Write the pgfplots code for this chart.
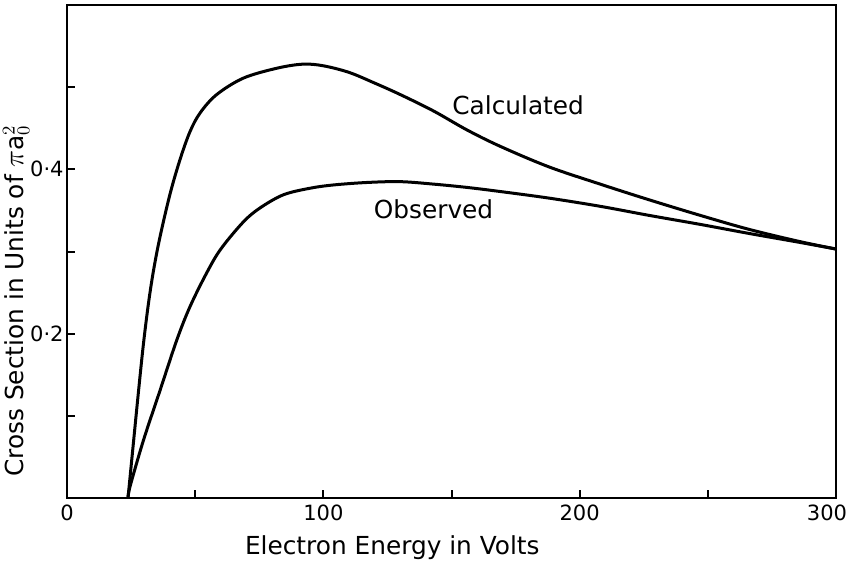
\documentclass[border=0pt]{standalone}
\usepackage{fontspec}
\setmainfont{DejaVu Sans}
\usepackage{pgfplots}
\pgfplotsset{compat=1.18}

% values (energy in volts, cross section in pi a0^2)
\pgfplotstableread{
V sig
23.8 0
26.0 0.070
27.9 0.130
29.8 0.187
31.7 0.235
33.7 0.276
36.3 0.318
40.2 0.370
44.1 0.412
48 0.446
52 0.469
58.4 0.491
68.8 0.511
81.8 0.523
92 0.528
100 0.526
110 0.518
120 0.505
130 0.491
143 0.471
156 0.448
169 0.428
188 0.403
208 0.382
227 0.363
247 0.344
266 0.327
286 0.312
300 0.303
}\calc

\pgfplotstableread{
V sig
23.8 0
24.6 0.014
29.8 0.070
36.3 0.131
42.8 0.192
48.0 0.233
54.5 0.274
60 0.303
68.8 0.336
75.3 0.353
84.4 0.369
94.8 0.377
104 0.381
117 0.384
130 0.385
143 0.382
156 0.378
169 0.373
188 0.365
208 0.355
227 0.344
247 0.333
266 0.322
286 0.311
300 0.303
}\obs

\begin{document}
\begin{tikzpicture}
\begin{axis}[
  scale only axis,
  width=384.5pt, height=246.5pt,
  xmin=0, xmax=300, ymin=0, ymax=0.6,
  axis line style={line width=1.2pt},
  tick pos=left, tick align=inside,
  major tick length=4pt, minor tick length=4pt,
  every tick/.style={line width=1pt, black},
  xtick={0,100,200,300}, xticklabels={0,100,200,\hspace*{-9pt}300},
  minor xtick={50,150,250},
  ytick={0.2,0.4}, yticklabels={0·2,0·4},
  minor ytick={0.1,0.3,0.5},
  tick label style={font=\fontsize{10.5}{12}\selectfont},
  yticklabel style={inner xsep=1.5pt},
  label style={font=\fontsize{12.4}{15}\selectfont},
  xlabel={Electron Energy in Volts},
  xlabel style={at={(axis description cs:0.423,-0.101)}, anchor=center},
  ylabel={Cross Section in Units of {\Large$\pi$}a$^{2}_{0}$},
  ylabel style={at={(axis description cs:-0.066,0.40)}, anchor=center},
]
\addplot[black, line width=1.5pt, smooth, tension=0.55] table[x=V, y=sig] {\calc};
\addplot[black, line width=1.5pt, smooth, tension=0.55] table[x=V, y=sig] {\obs};
\node[font=\fontsize{12.4}{15}\selectfont] at (axis cs:176,0.478) {Calculated};
\node[font=\fontsize{12.4}{15}\selectfont] at (axis cs:143,0.352) {Observed};
\end{axis}
\pgfresetboundingbox
\path (current axis.south west) ++(-33.5pt,-32pt) rectangle ([shift={(7pt,2.5pt)}]current axis.north east);
\end{tikzpicture}
\end{document}
